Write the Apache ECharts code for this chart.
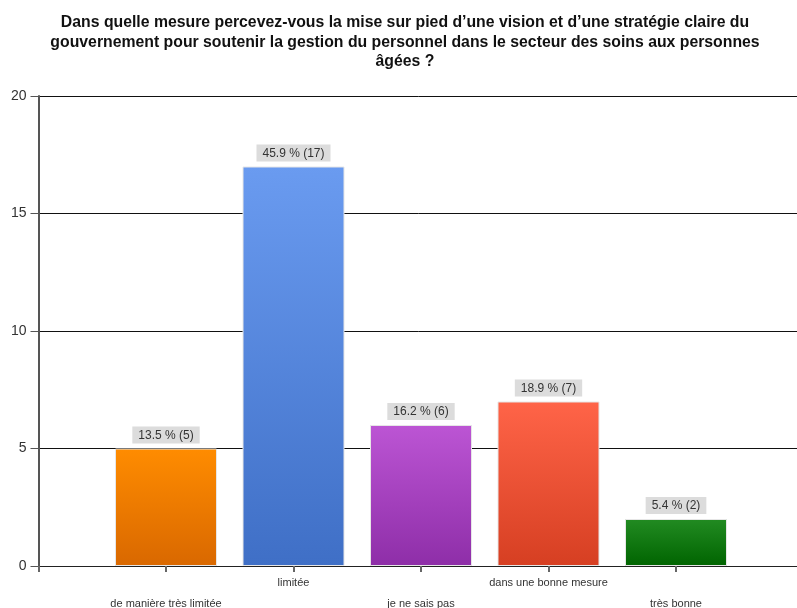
<!DOCTYPE html>
<html>
<head>
<meta charset="utf-8">
<script src="https://cdn.jsdelivr.net/npm/echarts@6/dist/echarts.min.js"></script>
<style>
html,body{margin:0;padding:0;background:#fff;}
#c{width:797px;height:608px;}
</style>
</head>
<body>
<div id="c"></div>
<script>
var titleLines = [
  "Dans quelle mesure percevez-vous la mise sur pied d\u2019une vision et d\u2019une strat\u00e9gie claire du",
  "gouvernement pour soutenir la gestion du personnel dans le secteur des soins aux personnes",
  "\u00e2g\u00e9es ?"
];
var categories = ["de mani\u00e8re tr\u00e8s limit\u00e9e", "limit\u00e9e", "je ne sais pas", "dans une bonne mesure", "tr\u00e8s bonne"];
var counts = [5, 17, 6, 7, 2];
var percents = ["13.5", "45.9", "16.2", "18.9", "5.4"];
var yTicks = [0, 5, 10, 15, 20];

var colorTop = ["#FF8C00", "#6A9BF0", "#BC55D4", "#FF6448", "#228B22"];
var colorBottom = ["#D96800", "#3F6FC6", "#8E2EA8", "#D63F22", "#006400"];

var chart = echarts.init(document.getElementById('c'));
var data = counts.map(function (v, i) {
  return {
    value: [i + 1, v],
    itemStyle: {
      color: new echarts.graphic.LinearGradient(0, 0, 0, 1, [
        {offset: 0, color: colorTop[i]},
        {offset: 1, color: colorBottom[i]}
      ]),
      borderColor: '#E6E6E6',
      borderWidth: 1
    }
  };
});

chart.setOption({
  animation: false,
  title: {
    text: titleLines.join('\n'),
    left: 400,
    top: 8,
    textAlign: 'center',
    textStyle: {
      fontFamily: 'Liberation Sans, Arial, sans-serif',
      fontSize: 15.8,
      fontWeight: 'bold',
      color: '#111',
      lineHeight: 19.5
    }
  },
  grid: {left: 38.5, right: -6.5, top: 96, bottom: 42, containLabel: false, outerBoundsMode: 'none'},
  xAxis: {
    type: 'value',
    min: 0,
    max: 6,
    interval: 1,
    axisLine: {show: true, onZero: false, lineStyle: {color: '#222', width: 1}},
    axisTick: {show: true, length: 6, lineStyle: {color: '#666', width: 2}},
    splitLine: {show: false},
    axisLabel: {
      margin: 6,
      fontFamily: 'Liberation Sans, Arial, sans-serif',
      fontSize: 11,
      color: '#333',
      lineHeight: 21,
      formatter: function (v) {
        var i = Math.round(v) - 1;
        if (i < 0 || i >= categories.length) return '';
        return (i % 2 === 0) ? '\n' + categories[i] : categories[i];
      }
    }
  },
  yAxis: {
    type: 'value',
    min: yTicks[0],
    max: yTicks[yTicks.length - 1],
    interval: 5,
    axisLine: {show: true, lineStyle: {color: '#555', width: 2}},
    axisTick: {show: true, length: 8, lineStyle: {color: '#555', width: 1}},
    splitLine: {show: true, lineStyle: {color: '#111', width: 1}},
    axisLabel: {
      margin: 12,
      fontFamily: 'Liberation Sans, Arial, sans-serif',
      fontSize: 14,
      color: '#333'
    }
  },
  series: [{
    type: 'bar',
    barWidth: 102,
    data: data,
    label: {
      show: true,
      position: 'top',
      distance: 5,
      backgroundColor: '#DCDCDC',
      padding: [3, 6, 2, 6],
      fontFamily: 'Liberation Sans, Arial, sans-serif',
      fontSize: 12,
      color: '#333',
      formatter: function (p) {
        return percents[p.dataIndex] + ' % (' + counts[p.dataIndex] + ')';
      }
    }
  }]
});
</script>
</body>
</html>
